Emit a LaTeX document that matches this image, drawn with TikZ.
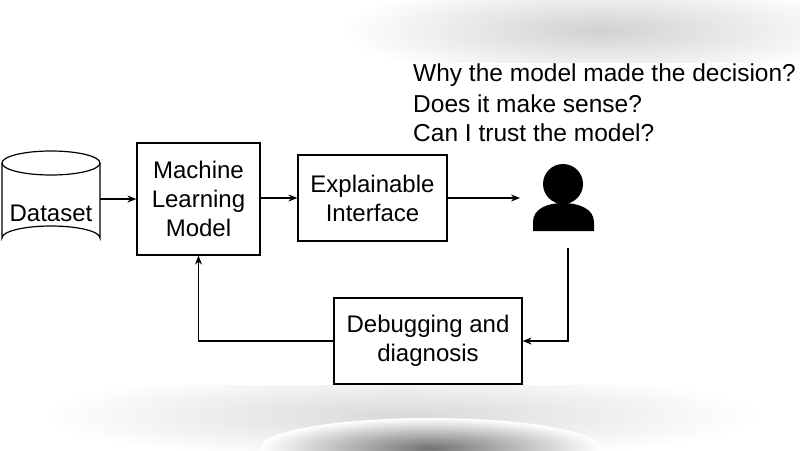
\documentclass[tikz,border=0pt]{standalone}
\usepackage{fontspec}
\setmainfont{Liberation Sans}
\usetikzlibrary{arrows.meta}
\begin{document}
\begin{tikzpicture}[x=1pt,y=-1pt,
  box/.style={draw,line width=1.2pt,align=center,font=\fontsize{24}{29}\selectfont,inner sep=0pt},
  arr/.style={line width=1.2pt,-{Stealth[length=9pt,width=7pt]}},
  txt/.style={font=\fontsize{24.5}{29}\selectfont,anchor=west,inner sep=0pt}]
\useasboundingbox (0,0) rectangle (800,450);
\shade[inner color=black!18,outer color=white] (600,30) ellipse (260 and 50);
\shade[inner color=black!15,outer color=white] (400,415) ellipse (360 and 45);
\shade[inner color=black!55,outer color=white] (430,448) ellipse (170 and 30);
\fill[white] (0,63) rectangle (800,385);
% cylinder
\draw[line width=1.2pt,fill=white] (2,163) -- (2,238) arc[start angle=180,end angle=360,x radius=49,y radius=12] -- (100,163);
\draw[line width=1.2pt] (51,163) ellipse (49 and 12);
\node[font=\fontsize{24}{29}\selectfont,inner sep=0pt] (ds) at (51,213) {Dataset};
\coordinate (dse) at (100,199);
\node[box,minimum width=123pt,minimum height=112pt] (ml) at (198.5,199) {Machine\\Learning\\Model};
\node[box,minimum width=149pt,minimum height=86pt] (ei) at (372.5,198) {Explainable\\Interface};
\node[box,minimum width=188pt,minimum height=86pt] (db) at (428,341) {Debugging and\\diagnosis};
\coordinate (p) at (520,198);
\fill (563,184) circle (20);
\fill (533,231) -- (533,222) .. controls (533,209) and (547,203) .. (563,203) .. controls (579,203) and (594,209) .. (594,222) -- (594,231) -- cycle;
\coordinate (u) at (568,248);
\node[txt] (q1) at (413,75) {Why the model made the decision?};
\node[txt] (q2) at (413,104) {Does it make sense?};
\node[txt] (q3) at (413,133) {Can I trust the model?};
\draw[arr] (dse) -- (ml.west |- dse);
\draw[arr] (ml.east |- ei) -- (ei.west);
\draw[arr] (ei.east) -- (p);
\draw[arr] (u) -- (u |- db) -- (db.east);
\draw[arr] (db.west) -| (ml.south);
\end{tikzpicture}
\end{document}
